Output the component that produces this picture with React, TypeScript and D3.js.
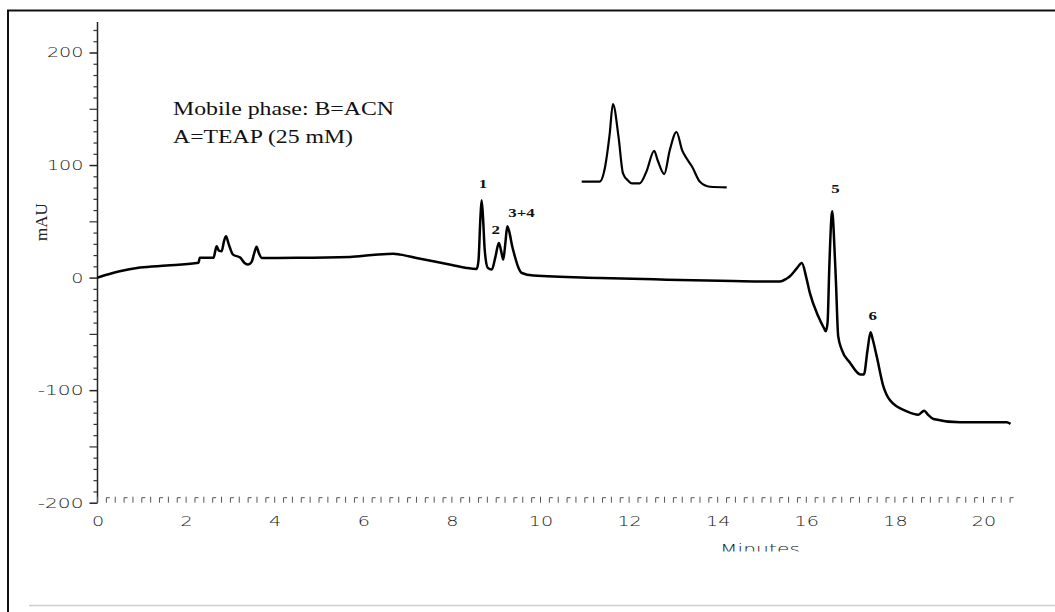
import { useEffect, useRef } from 'react';
import * as d3 from 'd3';

// main trace, minutes vs mAU
const time = [
  0.0, 0.25, 0.5, 0.96, 1.56, 2.24, 2.28, 2.31, 2.62, 2.66, 2.69, 2.74, 2.8, 2.86, 2.9, 2.96,
  3.06, 3.22, 3.32, 3.4, 3.48, 3.54, 3.59, 3.64, 3.71, 4.5, 5.7, 6.2, 6.68, 6.83, 7.2, 7.58,
  8.0, 8.33, 8.56, 8.6, 8.64, 8.67, 8.7, 8.74, 8.81, 8.9, 8.98, 9.06, 9.11, 9.16, 9.21, 9.25,
  9.3, 9.36, 9.42, 9.5, 9.58, 9.84, 11.34, 12.85, 14.35, 15.4, 15.55, 15.63, 15.78, 15.9,
  16.0, 16.08, 16.27, 16.4, 16.44, 16.48, 16.52, 16.57, 16.59, 16.62, 16.67, 16.72, 16.8,
  16.99, 17.22, 17.3, 17.38, 17.45, 17.5, 17.59, 17.74, 17.89, 18.27, 18.53, 18.66, 18.75,
  18.87, 19.47, 20.52, 20.61,
];
const mau = [
  0.0, 3.0, 5.6, 8.9, 10.7, 13.0, 13.2, 17.6, 17.6, 24, 27.8, 24, 23.4, 33, 36.7, 30,
  20.4, 17.8, 13, 11.6, 14, 22, 27.3, 22, 17.5, 17.6, 18.4, 20, 21.3, 20.4, 17.5, 14.5,
  11.2, 8.6, 7.7, 15, 50, 68.7, 55, 25, 8.6, 7.1, 18, 30.8, 24, 16, 32, 45.6,
  40, 28, 19, 9, 4.1, 1.8, -0.3, -1.8, -3.0, -3.5, -1, 1.2, 8, 13,
  0, -13.6, -34.4, -45, -47.7, -40, 10, 55, 59, 40, -4.7, -52, -64,
  -75.8, -86, -86, -65, -48.6, -55, -70, -96.6, -109, -118.8, -121.8, -118.2, -122,
  -125.6, -128.6, -128.6, -130,
];

// enlarged inset of peaks 1-4
const insetTime = [
  8.45, 8.61, 8.66, 8.7, 8.73, 8.78, 8.82, 8.87, 8.9, 8.97, 9.03, 9.1, 9.13, 9.19,
  9.24, 9.3, 9.35, 9.39, 9.44, 9.51, 9.6, 9.75,
];
const insetMau = [
  2.0, 2.0, 15.1, 42.9, 70, 41.4, 9.4, 2.6, 0.6, 0.6, 10.8, 29.1, 21, 8.7,
  29.7, 45.5, 29.7, 22.5, 15.1, 2.0, -2.4, -2.9,
];

const yTicks = [-200, -100, 0, 100, 200];
const xTicks = [0, 2, 4, 6, 8, 10, 12, 14, 16, 18, 20];

const peakLabels = ['1', '2', '3+4', '5', '6'];
const peakLabelTime = [8.7, 8.99, 9.57, 16.66, 17.5];
const peakLabelMau = [80, 39, 54, 75.5, -37.3];

export default function App() {
  const ref = useRef<SVGSVGElement | null>(null);

  useEffect(() => {
    if (!ref.current) return;
    const svg = d3.select(ref.current);
    svg.selectAll('*').remove();

    const width = 1055;
    const height = 612;
    const tickFont = "'DejaVu Sans', sans-serif";
    const serif = "'Liberation Serif', 'Times New Roman', serif";
    // the source picture is stretched sideways, so glyphs get a fixed width per char
    const charW = 12.2;
    const labelInk = '#1a1a1a';

    svg.attr('width', width).attr('height', height);
    svg.append('rect').attr('width', width).attr('height', height).attr('fill', '#fff');

    // outer frame: left + top dark, bottom light gray
    svg.append('path')
      .attr('d', `M8,${height} L8,10.5 L${width},10.5`)
      .attr('fill', 'none')
      .attr('stroke', '#111')
      .attr('stroke-width', 2);
    svg.append('line')
      .attr('x1', 29).attr('x2', width).attr('y1', 605.5).attr('y2', 605.5)
      .attr('stroke', '#cfcfcf').attr('stroke-width', 1.5);

    const x = d3.scaleLinear().domain([0, 20]).range([97.5, 983.5]);
    const y = d3.scaleLinear().domain([-200, 200]).range([502.7, 52.5]);

    // y axis
    svg.append('line')
      .attr('x1', x(0)).attr('x2', x(0))
      .attr('y1', y(-200)).attr('y2', y(227))
      .attr('stroke', '#222').attr('stroke-width', 1.5);

    const yMinor = d3.range(-200, 221, 10).filter((v) => v % 50 !== 0);
    const yMinorAxis = svg.append('g')
      .attr('transform', `translate(${x(0)},0)`)
      .call(d3.axisLeft(y).tickValues(yMinor).tickSize(4).tickFormat(() => ''));
    yMinorAxis.select('.domain').remove();
    yMinorAxis.selectAll('line').attr('stroke', '#333').attr('stroke-width', 1.2);

    const yMid = d3.range(-150, 201, 100);
    const yMidAxis = svg.append('g')
      .attr('transform', `translate(${x(0)},0)`)
      .call(d3.axisLeft(y).tickValues(yMid).tickSize(8).tickFormat(() => ''));
    yMidAxis.select('.domain').remove();
    yMidAxis.selectAll('line').attr('stroke', '#333').attr('stroke-width', 1.2);

    const yAxis = svg.append('g')
      .attr('transform', `translate(${x(0)},0)`)
      .call(d3.axisLeft(y).tickValues(yTicks).tickSize(8).tickPadding(6).tickFormat((d) => String(d)));
    yAxis.select('.domain').remove();
    yAxis.selectAll('line').attr('stroke', '#222').attr('stroke-width', 1.5);
    yAxis.selectAll<SVGTextElement, number>('text')
      .attr('font-family', tickFont)
      .attr('font-weight', 200)
      .attr('font-size', 14)
      .attr('fill', labelInk)
      .attr('textLength', (d) => String(d).length * charW - (d < 0 ? 3 : 0))
      .attr('lengthAdjust', 'spacingAndGlyphs');

    // x axis: row of small ticks at the -200 level, labels below
    const xMinor = d3.range(0, 20.65, 0.2);
    svg.append('g')
      .selectAll('path')
      .data(xMinor)
      .join('path')
      .attr('d', (d, i) => {
        const px = x(d);
        const y0 = y(-200);
        return i % 2 === 0
          ? `M${px},${y0} L${px},${y0 - 6}`
          : `M${px},${y0} L${px},${y0 - 5} L${px + 3.5},${y0 - 5}`;
      })
      .attr('fill', 'none')
      .attr('stroke', '#555')
      .attr('stroke-width', 1);

    const xAxis = svg.append('g')
      .attr('transform', `translate(0,${y(-200)})`)
      .call(d3.axisBottom(x).tickValues(xTicks).tickSize(0).tickPadding(13));
    xAxis.select('.domain').remove();
    xAxis.selectAll<SVGTextElement, number>('text')
      .attr('font-family', tickFont)
      .attr('font-weight', 200)
      .attr('font-size', 14)
      .attr('fill', labelInk)
      .attr('textLength', (d) => String(d).length * charW)
      .attr('lengthAdjust', 'spacingAndGlyphs');

    // axis titles
    const clip = svg.append('defs').append('clipPath').attr('id', 'titleClip');
    clip.append('rect').attr('x', 0).attr('y', 0).attr('width', width).attr('height', 551.5);

    svg.append('text')
      .attr('x', 720)
      .attr('y', 554)
      .attr('clip-path', 'url(#titleClip)')
      .attr('font-family', tickFont)
      .attr('font-weight', 200)
      .attr('font-size', 14)
      .attr('fill', labelInk)
      .attr('textLength', 80)
      .attr('lengthAdjust', 'spacingAndGlyphs')
      .text('Minutes');

    svg.append('text')
      .attr('transform', 'translate(47,222) rotate(-90)')
      .attr('text-anchor', 'middle')
      .attr('font-family', serif)
      .attr('font-size', 17)
      .attr('fill', '#222')
      .text('mAU');

    // chromatogram
    const line = d3.line<number>()
      .x((d) => x(time[d]))
      .y((d) => y(mau[d]))
      .curve(d3.curveMonotoneX);

    svg.append('path')
      .attr('d', line(d3.range(time.length)))
      .attr('fill', 'none')
      .attr('stroke', '#000')
      .attr('stroke-width', 2.5)
      .attr('stroke-linejoin', 'round');

    // peak numbers
    svg.append('g')
      .selectAll('text')
      .data(peakLabels)
      .join('text')
      .attr('transform', (_, i) => `translate(${x(peakLabelTime[i])},${y(peakLabelMau[i])}) scale(1.3,1)`)
      .attr('text-anchor', 'middle')
      .attr('font-family', serif)
      .attr('font-weight', 'bold')
      .attr('font-size', 13)
      .attr('fill', '#111')
      .text((d) => d);

    // inset enlargement
    const ix = d3.scaleLinear().domain([8.45, 9.75]).range([581.7, 726.7]);
    const iy = d3.scaleLinear().domain([0, 70]).range([184, 104]);
    const insetLine = d3.line<number>()
      .x((d) => ix(insetTime[d]))
      .y((d) => iy(insetMau[d]))
      .curve(d3.curveMonotoneX);

    svg.append('path')
      .attr('d', insetLine(d3.range(insetTime.length)))
      .attr('fill', 'none')
      .attr('stroke', '#000')
      .attr('stroke-width', 2.2);

    // mobile phase note
    const note = svg.append('g')
      .attr('font-family', serif)
      .attr('font-size', 19)
      .attr('fill', '#111');
    note.append('text')
      .attr('x', 173).attr('y', 115)
      .attr('textLength', 221).attr('lengthAdjust', 'spacingAndGlyphs')
      .text('Mobile phase: B=ACN');
    note.append('text')
      .attr('x', 173).attr('y', 143)
      .attr('textLength', 180).attr('lengthAdjust', 'spacingAndGlyphs')
      .text('A=TEAP (25 mM)');
  }, []);

  return (
    <div style={{ position: 'absolute', left: 0, top: 0 }}>
      <svg ref={ref} style={{ display: 'block' }}></svg>
    </div>
  );
}
